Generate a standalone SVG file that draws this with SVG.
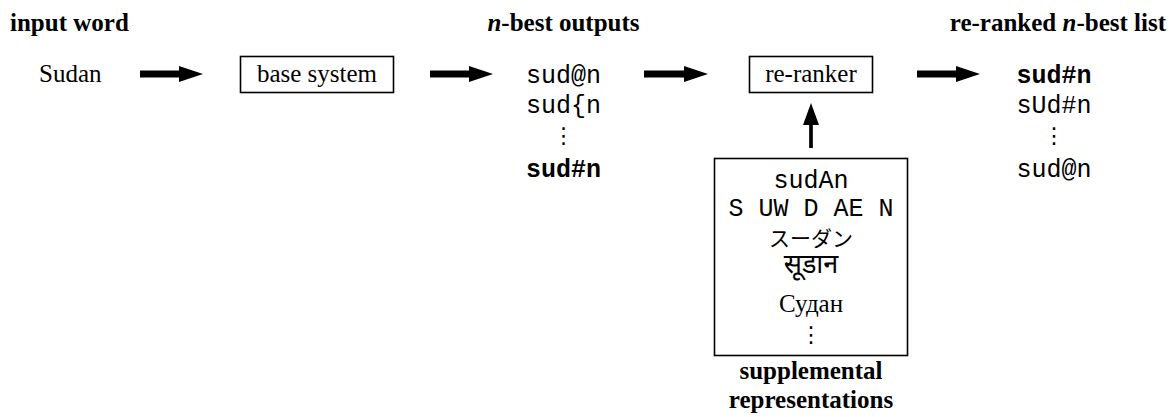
<svg xmlns="http://www.w3.org/2000/svg" width="1169" height="417" viewBox="0 0 1169 417">
<style>
.serif{font-family:"Liberation Serif","Times New Roman",serif;font-size:25px;fill:#000}
.b{font-weight:bold}
.mono{font-family:"Liberation Mono","Courier New",monospace;font-size:25px;fill:#000}
.dots{font-family:"DejaVu Sans",sans-serif;font-size:22px;fill:#000}
.box{fill:#fff;stroke:#000;stroke-width:1.6}
.c{text-anchor:middle}
.arr{stroke:#000;stroke-width:7;fill:none}
.varr{stroke:#000;stroke-width:3.7;fill:none}
</style>
<defs>
<marker id="hh" markerUnits="userSpaceOnUse" markerWidth="26" markerHeight="18" refX="1" refY="8" orient="auto">
<path d="M0,0 L24,8 L0,16 Z" fill="#000"/>
</marker>
<marker id="vh" markerUnits="userSpaceOnUse" markerWidth="24" markerHeight="18" refX="1" refY="8" orient="auto">
<path d="M0,0 L22,8 L0,16 Z" fill="#000"/>
</marker>
</defs>
<rect width="1169" height="417" fill="#fff"/>

<g id="headers">
<text class="serif b" x="10" y="31">input word</text>
<text class="serif b c" x="563.5" y="31"><tspan font-style="italic">n</tspan>-best outputs</text>
<text class="serif b" x="1166" y="31" text-anchor="end">re-ranked <tspan font-style="italic">n</tspan>-best list</text>
</g>

<g id="input">
<text class="serif" x="39" y="82">Sudan</text>
</g>

<g id="base-system">
<rect class="box" x="240.5" y="56.5" width="153" height="36"/>
<text class="serif c" x="317" y="82">base system</text>
</g>

<g id="nbest">
<text class="mono c" x="563.5" y="83">sud@n</text>
<text class="mono c" x="563.5" y="113">sud{n</text>
<text class="dots c" x="563.5" y="143">⋮</text>
<text class="mono b c" x="563.5" y="177">sud#n</text>
</g>

<g id="re-ranker">
<rect class="box" x="749.5" y="56.5" width="123" height="36"/>
<text class="serif c" x="811" y="82">re-ranker</text>
</g>

<g id="reranked">
<text class="mono b c" x="1054" y="83">sud#n</text>
<text class="mono c" x="1054" y="113">sUd#n</text>
<text class="dots c" x="1054" y="143">⋮</text>
<text class="mono c" x="1054" y="177">sud@n</text>
</g>

<g id="supplemental">
<rect class="box" x="714.5" y="158.5" width="193" height="197"/>
<text class="mono c" x="811" y="188">sudAn</text>
<text class="mono c" x="811" y="216">S UW D AE N</text>
<text class="c" x="811" y="246" font-family="'Noto Sans CJK JP',sans-serif" font-size="21">スーダン</text>
<text class="c" x="811" y="273" font-family="'Noto Sans Devanagari','Lohit Devanagari','Noto Sans',sans-serif" font-size="27">सूडान</text>
<text class="serif c" x="811" y="312">Судан</text>
<text class="dots c" x="811" y="342">⋮</text>
<text class="serif b c" x="811" y="379">supplemental</text>
<text class="serif b c" x="811" y="408">representations</text>
</g>

<g id="connectors">
<line class="arr" x1="140" y1="74" x2="180" y2="74" marker-end="url(#hh)"/>
<line class="arr" x1="430" y1="74" x2="470" y2="74" marker-end="url(#hh)"/>
<line class="arr" x1="644" y1="74" x2="685" y2="74" marker-end="url(#hh)"/>
<line class="arr" x1="917" y1="74" x2="957" y2="74" marker-end="url(#hh)"/>
<line class="varr" x1="811" y1="148" x2="811" y2="124" marker-end="url(#vh)"/>
</g>
</svg>
